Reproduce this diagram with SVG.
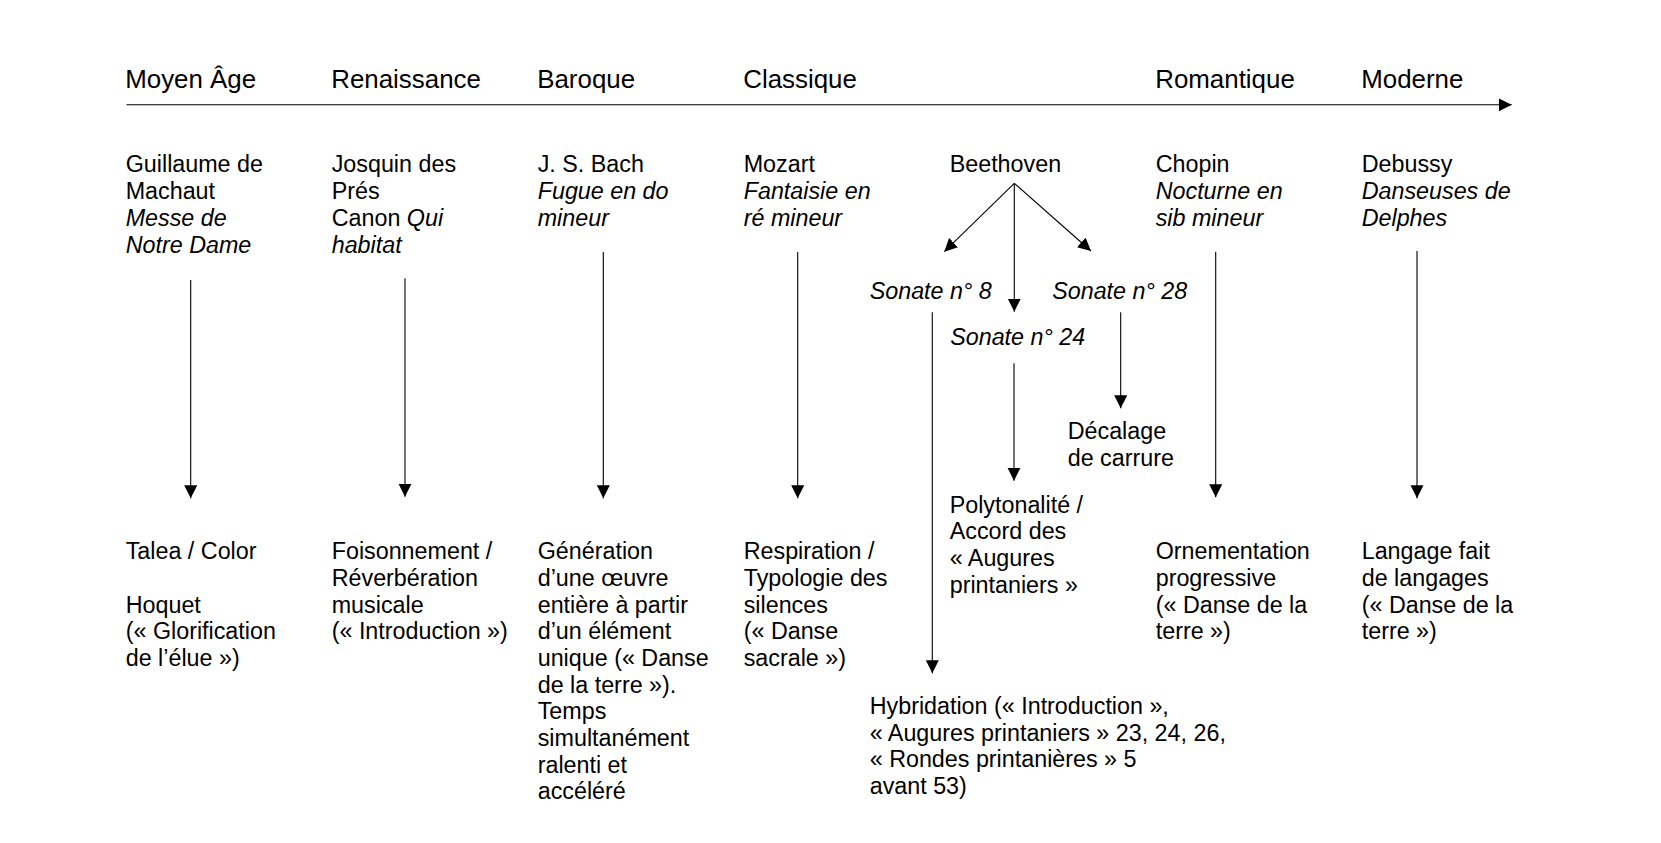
<svg xmlns="http://www.w3.org/2000/svg" width="1661" height="843" viewBox="0 0 1661 843">
<style>
text{font-family:"Liberation Sans",Arial,sans-serif;fill:#000}
.h{font-size:25.9px}
.b{font-size:23.3px}
.i{font-style:italic}
.c{stroke:#000;stroke-width:1.1;fill:none;marker-end:url(#ah)}
</style>
<defs>
<marker id="ah" markerUnits="userSpaceOnUse" markerWidth="14" markerHeight="14" refX="13" refY="6.5" orient="auto">
<path d="M0,0 L13,6.5 L0,13 z" fill="#000"/>
</marker>
</defs>
<rect width="1661" height="843" fill="#fff"/>
<g id="timeline">
<line class="c" x1="126.5" y1="104.8" x2="1511.7" y2="104.8"/>
</g>
<g transform="translate(0.2,1)">
<g id="periods" class="h">
<text x="125" y="87.3">Moyen Âge</text>
<text x="331" y="87.3">Renaissance</text>
<text x="537" y="87.3">Baroque</text>
<text x="743" y="87.3">Classique</text>
<text x="1155" y="87.3">Romantique</text>
<text x="1361" y="87.3">Moderne</text>
</g>
<g id="machaut" class="b">
<text x="125.5" y="170.7">Guillaume de</text>
<text x="125.5" y="197.7">Machaut</text>
<text x="125.5" y="225" class="i">Messe de</text>
<text x="125.5" y="251.7" class="i">Notre Dame</text>
</g>
<g id="josquin" class="b">
<text x="331.5" y="170.7">Josquin des</text>
<text x="331.5" y="197.7">Prés</text>
<text x="331.5" y="225">Canon <tspan class="i">Qui</tspan></text>
<text x="331.5" y="251.7" class="i">habitat</text>
</g>
<g id="bach" class="b">
<text x="537.5" y="170.7">J. S. Bach</text>
<text x="537.5" y="197.7" class="i">Fugue en do</text>
<text x="537.5" y="225" class="i">mineur</text>
</g>
<g id="mozart" class="b">
<text x="743.5" y="170.7">Mozart</text>
<text x="743.5" y="197.7" class="i">Fantaisie en</text>
<text x="743.5" y="225" class="i">ré mineur</text>
</g>
<g id="beethoven" class="b">
<text x="949.5" y="170.7">Beethoven</text>
</g>
<g id="chopin" class="b">
<text x="1155.5" y="170.7">Chopin</text>
<text x="1155.5" y="197.7" class="i">Nocturne en</text>
<text x="1155.5" y="225" class="i">sib mineur</text>
</g>
<g id="debussy" class="b">
<text x="1361.5" y="170.7">Debussy</text>
<text x="1361.5" y="197.7" class="i">Danseuses de</text>
<text x="1361.5" y="225" class="i">Delphes</text>
</g>
<g id="sonate8" class="b i"><text x="869.5" y="298.3">Sonate n° 8</text></g>
<g id="sonate28" class="b i"><text x="1052" y="298.3">Sonate n° 28</text></g>
<g id="sonate24" class="b i"><text x="950" y="344">Sonate n° 24</text></g>
<g id="decalage" class="b">
<text x="1067.5" y="438.3">Décalage</text>
<text x="1067.5" y="465">de carrure</text>
</g>
<g id="polytonalite" class="b">
<text x="949.5" y="511.7">Polytonalité /</text>
<text x="949.5" y="538.3">Accord des</text>
<text x="949.5" y="565">« Augures</text>
<text x="949.5" y="591.7">printaniers »</text>
</g>
<g id="talea" class="b">
<text x="125.5" y="558.3">Talea / Color</text>
<text x="125.5" y="611.7">Hoquet</text>
<text x="125.5" y="638.3">(« Glorification</text>
<text x="125.5" y="665">de l’élue »)</text>
</g>
<g id="foisonnement" class="b">
<text x="331.5" y="558.3">Foisonnement /</text>
<text x="331.5" y="585">Réverbération</text>
<text x="331.5" y="611.7">musicale</text>
<text x="331.5" y="638.3">(« Introduction »)</text>
</g>
<g id="generation" class="b">
<text x="537.5" y="558.3">Génération</text>
<text x="537.5" y="585">d’une œuvre</text>
<text x="537.5" y="611.7">entière à partir</text>
<text x="537.5" y="638.3">d’un élément</text>
<text x="537.5" y="665">unique (« Danse</text>
<text x="537.5" y="691.7">de la terre »).</text>
<text x="537.5" y="718.3">Temps</text>
<text x="537.5" y="745">simultanément</text>
<text x="537.5" y="771.7">ralenti et</text>
<text x="537.5" y="798.4">accéléré</text>
</g>
<g id="respiration" class="b">
<text x="743.5" y="558.3">Respiration /</text>
<text x="743.5" y="585">Typologie des</text>
<text x="743.5" y="611.7">silences</text>
<text x="743.5" y="638.3">(« Danse</text>
<text x="743.5" y="665">sacrale »)</text>
</g>
<g id="ornementation" class="b">
<text x="1155.5" y="558.3">Ornementation</text>
<text x="1155.5" y="585">progressive</text>
<text x="1155.5" y="611.7">(« Danse de la</text>
<text x="1155.5" y="638.3">terre »)</text>
</g>
<g id="langage" class="b">
<text x="1361.5" y="558.3">Langage fait</text>
<text x="1361.5" y="585">de langages</text>
<text x="1361.5" y="611.7">(« Danse de la</text>
<text x="1361.5" y="638.3">terre »)</text>
</g>
<g id="hybridation" class="b">
<text x="869.5" y="713.3">Hybridation (« Introduction »,</text>
<text x="869.5" y="739.8">« Augures printaniers » 23, 24, 26,</text>
<text x="869.5" y="766.3">« Rondes printanières » 5</text>
<text x="869.5" y="792.7">avant 53)</text>
</g>
</g>
<g id="connectors">
<line class="c" x1="190.7" y1="280" x2="190.7" y2="498.3"/>
<line class="c" x1="405" y1="278.3" x2="405" y2="496.7"/>
<line class="c" x1="603.3" y1="252" x2="603.3" y2="498.3"/>
<line class="c" x1="797.7" y1="252" x2="797.7" y2="498.3"/>
<line class="c" x1="1215.7" y1="251.7" x2="1215.7" y2="497.3"/>
<line class="c" x1="1417" y1="251" x2="1417" y2="498.3"/>
<line class="c" x1="1014.3" y1="183.3" x2="944.3" y2="251.7"/>
<line class="c" x1="1014.3" y1="183.3" x2="1091" y2="251"/>
<line class="c" x1="1014.3" y1="183.3" x2="1014.3" y2="311.7"/>
<line class="c" x1="932.3" y1="312.3" x2="932.3" y2="673.3"/>
<line class="c" x1="1014" y1="363.3" x2="1014" y2="480.7"/>
<line class="c" x1="1120.7" y1="312.3" x2="1120.7" y2="408.3"/>
</g>
</svg>
